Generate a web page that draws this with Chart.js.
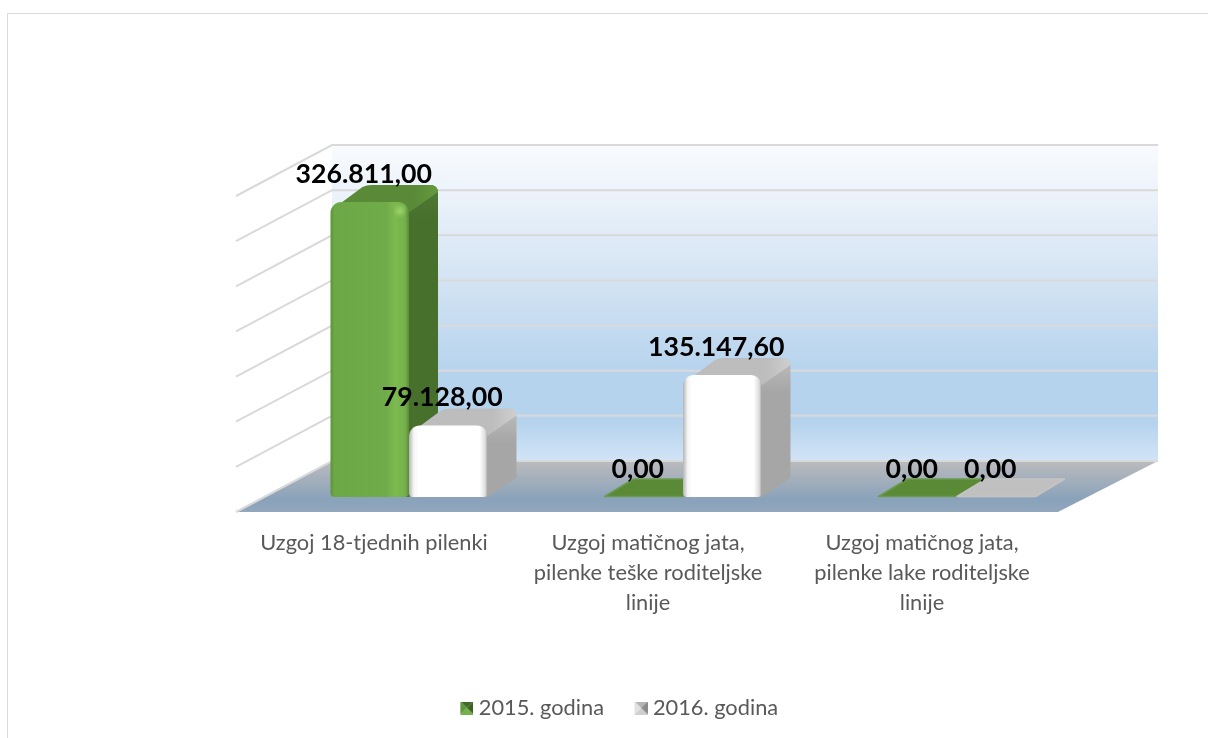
<!DOCTYPE html>
<html><head><meta charset="utf-8">
<style>html,body{margin:0;padding:0;background:#fff;overflow:hidden}canvas{display:block}</style>
<script src="https://cdn.jsdelivr.net/npm/chart.js@4/dist/chart.umd.js"></script>
</head><body><canvas id="c" width="1208" height="738"></canvas>
<script>
const categories = [
  ["Uzgoj 18-tjednih pilenki"],
  ["Uzgoj matičnog jata,", "pilenke teške roditeljske", "linije"],
  ["Uzgoj matičnog jata,", "pilenke lake roditeljske", "linije"]
];
const seriesNames = ["2015. godina", "2016. godina"];
const values2015 = [326811, 0, 0];
const values2016 = [79128, 135147.6, 0];
const yMax = 350000, yStep = 50000;
const FONT = "Lato, Carlito, Calibri, sans-serif";

// 3D projection offsets relative to the plot area
const DX = 29, DY = -17;
const WALL = {frontL:-36, backL:60, backR:64, frontR:-36, floorBack:-36, floorFront:15};

function pyramid(t, l, r, b){
  const c = document.createElement('canvas'); c.width = 19; c.height = 13;
  const g = c.getContext('2d');
  g.translate(6,0);
  const tri = (col, x1,y1,x2,y2) => { g.fillStyle = col; g.beginPath(); g.moveTo(x1,y1); g.lineTo(x2,y2); g.lineTo(6.5,6.5); g.closePath(); g.fill(); };
  tri(t,0,0,13,0); tri(r,13,0,13,13); tri(b,13,13,0,13); tri(l,0,13,0,0);
  return c;
}
const icons = [pyramid('#3f6b27','#5f9639','#3a6223','#74b14b'), pyramid('#b5b5b5','#e2e2e2','#8c8c8c','#cfcfcf')];

const skins = [
  {front:[[0,'#5c9339'],[.05,'#6ca846'],[.7,'#6fab49'],[.82,'#7cba4f'],[.95,'#76b04b'],[1,'#5a8b38']], side:'#47702d', sideHi:'#4f7b32', top:'#5a8a38', topHi:'#659a3e', flat:'#5a8a35', flatEdge:'#6c9a50'},
  {front:[[0,'#b4b4b4'],[.06,'#f5f5f5'],[.12,'#ffffff'],[.9,'#ffffff'],[.97,'#dddddd'],[1,'#a8a8a8']], side:'#a6a6a6', sideHi:'#bdbdbd', top:'#bdbdbd', topHi:'#cfcfcf', flat:'#c0c0c0', flatEdge:'#c4c4c4'}
];

const fmt = v => { const [a,b]=v.toFixed(2).split('.'); return a.replace(/\B(?=(\d{3})+$)/g,'.')+','+b; };

const scene = {
  id:'scene',
  afterLayout(chart){
    const lg = chart.legend;
    const dx = 619 - (lg.left+lg.right)/2, dy = 698 - (lg.top+lg.bottom)/2;
    lg.left+=dx; lg.right+=dx; lg.top+=dy; lg.bottom+=dy;
  },
  beforeDraw(chart){
    const {ctx, chartArea:a, scales:{y}} = chart;
    const xBL=a.left+WALL.backL, xBR=a.right+WALL.backR, xFL=a.left+WALL.frontL, xFR=a.right+WALL.frontR;
    const wallOff=WALL.floorBack, frontOff=WALL.floorFront;
    ctx.save();
    ctx.strokeStyle='#d9d9d9'; ctx.lineWidth=1;
    ctx.strokeRect(7.5,13.5,1400,1000);
    const top=y.getPixelForValue(yMax)+wallOff, bot=y.getPixelForValue(0)+wallOff;
    const g=ctx.createLinearGradient(0,top,0,bot);
    g.addColorStop(0,'#f9fbfe'); g.addColorStop(.4,'#d6e5f4'); g.addColorStop(.72,'#b6d3ed');
    g.addColorStop(.88,'#b6d3ed'); g.addColorStop(1,'#d2e4f6');
    ctx.fillStyle=g; ctx.fillRect(xBL,top,xBR-xBL,bot-top);
    const fg=ctx.createLinearGradient(0,bot,0,bot+51);
    fg.addColorStop(0,'#bbbbbd'); fg.addColorStop(.75,'#8aa2ba'); fg.addColorStop(1,'#90a7bd');
    ctx.fillStyle=fg; ctx.beginPath();
    ctx.moveTo(xFL,bot+51); ctx.lineTo(xFR,bot+51); ctx.lineTo(xBR,bot); ctx.lineTo(xBL,bot); ctx.closePath(); ctx.fill();
    ctx.strokeStyle='#d9d9d9'; ctx.lineWidth=2;
    y.ticks.forEach(t=>{
      const p=y.getPixelForValue(t.value);
      ctx.beginPath();
      ctx.moveTo(xFL,p+frontOff); ctx.lineTo(xBL,p+wallOff); ctx.lineTo(xBR,p+wallOff);
      ctx.stroke();
    });
    ctx.restore();
  },
  beforeDatasetsDraw(chart){
    const ctx=chart.ctx;
    [0,1].forEach(ds=>{
      const skin=skins[ds];
      chart.getDatasetMeta(ds).data.forEach(el=>{
        const l=el.x-el.width/2, r=el.x+el.width/2, t=el.y, b=el.base;
        ctx.save();
        if(b-t>1){
          const R=8, tx=t+DY, rx=r+DX;
          // right side face
          const sg=ctx.createLinearGradient(0,tx,0,tx+34);
          sg.addColorStop(0,skin.sideHi); sg.addColorStop(1,skin.side);
          ctx.fillStyle=sg; ctx.beginPath();
          ctx.moveTo(r-8,t+10); ctx.lineTo(r-8,tx+4); ctx.lineTo(rx-R,tx);
          ctx.quadraticCurveTo(rx,tx,rx,tx+R);
          ctx.lineTo(rx,b+DY-2); ctx.lineTo(r,b); ctx.lineTo(r-8,b);
          ctx.closePath(); ctx.fill();
          // top face
          const tg=ctx.createLinearGradient(r-8,0,rx,0);
          tg.addColorStop(0,skin.top); tg.addColorStop(.35,skin.top); tg.addColorStop(1,skin.topHi);
          ctx.fillStyle=tg; ctx.beginPath();
          ctx.moveTo(l+1,t+8); ctx.lineTo(l+DX+3,tx+2);
          ctx.quadraticCurveTo(l+DX+7,tx,l+DX+12,tx);
          ctx.lineTo(rx-R,tx); ctx.quadraticCurveTo(rx,tx,rx,tx+R);
          ctx.lineTo(rx,tx+7); ctx.lineTo(r-1,t+11); ctx.lineTo(l+1,t+11);
          ctx.closePath(); ctx.fill();
        } else {
          ctx.fillStyle=skin.flat; ctx.strokeStyle=skin.flatEdge; ctx.lineWidth=1.5; ctx.lineJoin='round';
          ctx.beginPath();
          ctx.moveTo(l,b-0.5); ctx.lineTo(l+DX,b+DY-1); ctx.lineTo(r+DX,b+DY-1); ctx.lineTo(r,b-0.5); ctx.closePath();
          ctx.fill(); ctx.stroke();
        }
        // front face shading for the native bar
        const fg=ctx.createLinearGradient(l,0,r,0);
        skin.front.forEach(s=>fg.addColorStop(s[0],s[1]));
        el.options={...el.options, backgroundColor:fg};
        ctx.restore();
      });
    });
  },
  afterDatasetsDraw(chart){
    const ctx=chart.ctx;
    ctx.save();
    // small corner highlight on the green column
    chart.getDatasetMeta(0).data.forEach(el=>{
      if(el.base-el.y<=1) return;
      const cx=el.x+el.width/2-9, cy=el.y+9;
      const g=ctx.createRadialGradient(cx,cy,0,cx,cy,7);
      g.addColorStop(0,'rgba(160,215,110,.9)'); g.addColorStop(1,'rgba(160,215,110,0)');
      ctx.fillStyle=g; ctx.fillRect(cx-7,cy-7,14,14);
    });
    ctx.fillStyle='#000'; ctx.font='bold 26.7px '+FONT; ctx.textAlign='center'; ctx.textBaseline='middle';
    [values2015,values2016].forEach((vals,ds)=>{
      chart.getDatasetMeta(ds).data.forEach((el,i)=>{
        ctx.fillText(fmt(vals[i]),el.x-6,el.y-28);
      });
    });
    ctx.restore();
  }
};

new Chart(document.getElementById('c'),{
  type:'bar',
  data:{labels:categories,datasets:[
    {label:seriesNames[0],data:values2015,backgroundColor:'#70ad47'},
    {label:seriesNames[1],data:values2016,backgroundColor:'#ffffff'}
  ]},
  plugins:[scene],
  options:{
    responsive:false,animation:false,
    layout:{autoPadding:false,padding:{left:272,right:114,top:181,bottom:0}},
    datasets:{bar:{categoryPercentage:.573,barPercentage:1,borderWidth:0,borderSkipped:false,
      borderRadius:{topLeft:11,topRight:11,bottomLeft:4,bottomRight:4}}},
    scales:{
      y:{display:false,min:0,max:yMax,ticks:{stepSize:yStep}},
      x:{grid:{display:false},border:{display:false},
        afterFit(s){s.height=241-(s.chart.legend?s.chart.legend.height:0);},
        ticks:{autoSkip:false,maxRotation:0,minRotation:0,labelOffset:-35,padding:23,color:'#595959',
          font:{family:FONT,size:21.8,lineHeight:1.376}}}
    },
    plugins:{
      tooltip:{enabled:false},
      legend:{position:'bottom',labels:{usePointStyle:true,pointStyleWidth:8,padding:30,color:'#595959',
        font:{family:FONT,size:21.8},
        generateLabels:c=>c.data.datasets.map((d,i)=>({text:d.label,pointStyle:icons[i],datasetIndex:i,fontColor:'#595959',lineWidth:0,hidden:false}))}}
    }
  }
});
</script></body></html>
